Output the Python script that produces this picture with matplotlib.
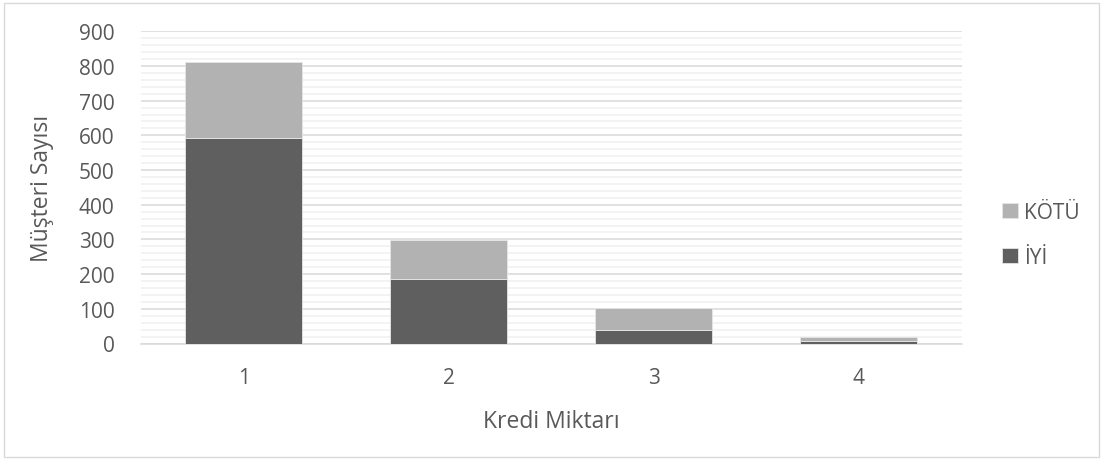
import matplotlib
matplotlib.use("Agg")
import matplotlib.pyplot as plt
from matplotlib.patches import Rectangle
import numpy as np

categories = ["1", "2", "3", "4"]
iyi = [591, 187, 39, 6]
kotu = [221, 110, 63, 12]

plt.rcParams["font.family"] = ["Open Sans", "DejaVu Sans"]
text_color = "#595959"

fig = plt.figure(figsize=(11.05, 4.64), dpi=100)
fig.patches.append(Rectangle((0.004, 0.013), 0.991, 0.978, transform=fig.transFigure,
                             fill=False, edgecolor="#d9d9d9", linewidth=1.0))

ax = fig.add_axes([141 / 1105, 1 - 344.5 / 464, (961.5 - 141) / 1105, (344.5 - 32.3) / 464])
x = np.arange(len(categories))
w = 0.57
ax.bar(x, iyi, width=w, color="#5f5f5f", edgecolor="#e6e6e6", linewidth=0.6, label="İYİ", zorder=3)
ax.bar(x, kotu, width=w, bottom=iyi, color="#b2b2b2", edgecolor="#e6e6e6", linewidth=0.6,
       label="KÖTÜ", zorder=3)

ax.set_xlim(-0.5, len(categories) - 0.5)
ax.set_ylim(0, 900)
ax.set_yticks(np.arange(0, 901, 100))
ax.set_yticks(np.arange(0, 901, 20), minor=True)
ax.grid(axis="y", which="major", color="#d9d9d9", linewidth=1.1, zorder=0)
ax.grid(axis="y", which="minor", color="#f0f0f0", linewidth=1.1, zorder=0)
ax.set_xticks(x)
ax.set_xticklabels(categories)
ax.tick_params(axis="both", which="both", length=0, labelsize=15, colors=text_color)
ax.tick_params(axis="x", pad=17)
ax.tick_params(axis="y", pad=19)
for s in ["top", "right", "left"]:
    ax.spines[s].set_visible(False)
ax.spines["bottom"].set_color("#d9d9d9")
ax.spines["bottom"].set_linewidth(1.1)

ax.set_xlabel("Kredi Miktarı", fontsize=16.5, color=text_color, labelpad=15)
ax.set_ylabel("Müşteri Sayısı", fontsize=16.5, color=text_color, labelpad=18)

handles, labels = ax.get_legend_handles_labels()
leg = fig.legend(handles[::-1], labels[::-1], loc="center left",
                 bbox_to_anchor=(0.89, 0.492), frameon=False, fontsize=15,
                 handlelength=0.75, handleheight=0.75, handletextpad=0.3, labelspacing=1.15,
                 labelcolor=text_color)

fig.savefig("out.png", dpi=100)
